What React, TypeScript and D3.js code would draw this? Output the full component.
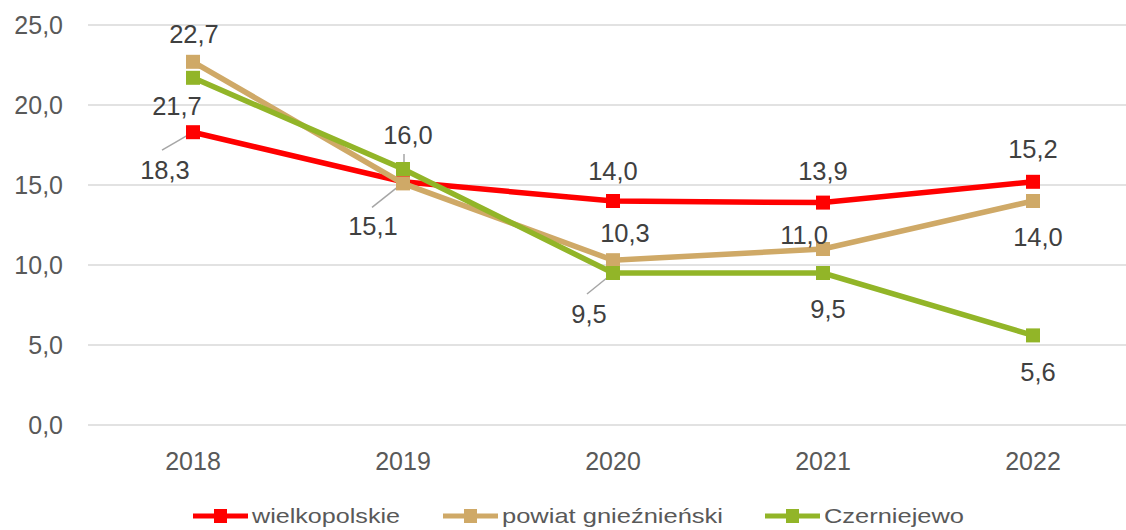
import React from 'react';
import * as d3 from 'd3';

const years = ['2018', '2019', '2020', '2021', '2022'];
const wielkopolskie = [18.3, 15.2, 14.0, 13.9, 15.2];
const powiat = [22.7, 15.1, 10.3, 11.0, 14.0];
const czerniejewo = [21.7, 16.0, 9.5, 9.5, 5.6];
const seriesNames = ['wielkopolskie', 'powiat gnieźnieński', 'Czerniejewo'];
const yTicks = [0, 5, 10, 15, 20, 25];

// label placement per point: [dx, dy] from the point, null = hidden, optional leader start
type Lab = { dx: number; dy: number; lead?: [number, number, number, number] } | null;
const redLabels: Lab[] = [
  { dx: -28, dy: 38, lead: [-31, 18, 0, 0] },
  null,
  { dx: 0, dy: -30 },
  { dx: 0, dy: -32 },
  { dx: 0, dy: -33 },
];
const tanLabels: Lab[] = [
  { dx: 1, dy: -28 },
  { dx: -30, dy: 43, lead: [-31, 24, -2, 1] },
  { dx: 12, dy: -27 },
  { dx: -19, dy: -14 },
  { dx: 5, dy: 36 },
];
const greenLabels: Lab[] = [
  { dx: -16, dy: 28 },
  { dx: 5, dy: -34, lead: [1, -15, 1, 0] },
  { dx: -24, dy: 41, lead: [-26, 21, 0, 0] },
  { dx: 5, dy: 36 },
  { dx: 5, dy: 37 },
];

const colors = ['#ff0000', '#cfa967', '#92b528'];
const series = [
  { name: seriesNames[0], values: wielkopolskie, color: colors[0], labels: redLabels },
  { name: seriesNames[1], values: powiat, color: colors[1], labels: tanLabels },
  { name: seriesNames[2], values: czerniejewo, color: colors[2], labels: greenLabels },
];

const fmt = (v: number) => v.toFixed(1).replace('.', ',');

export default function App() {
  const width = 1126;
  const height = 530;
  const x = d3.scalePoint<string>().domain(years).range([193, 1033]);
  const y = d3.scaleLinear().domain([0, 25]).range([425, 25]);
  const line = d3
    .line<number>()
    .x((_, i) => x(years[i]) as number)
    .y((d) => y(d));
  const font = 'Arial, "Liberation Sans", sans-serif';
  const ms = 14;

  const legendX = [193, 443, 765];
  const legendW = [148, 221, 140];

  return (
    <svg
      width={width}
      height={height}
      style={{ position: 'absolute', left: 0, top: 0, fontFamily: font }}
    >
      <rect width={width} height={height} fill="#fff" />
      {yTicks.map((t) => (
        <g key={t}>
          <line x1={88} x2={width} y1={y(t)} y2={y(t)} stroke="#d9d9d9" strokeWidth={1.5} />
          <text x={63} y={y(t)} dy="0.35em" textAnchor="end" fontSize={25} fill="#595959">
            {fmt(t)}
          </text>
        </g>
      ))}
      {years.map((yr) => (
        <text key={yr} x={x(yr)} y={461} dy="0.35em" textAnchor="middle" fontSize={25} fill="#595959">
          {yr}
        </text>
      ))}
      {series.map((s) =>
        s.labels.map((l, i) =>
          l && l.lead ? (
            <line
              key={s.name + 'lead' + i}
              x1={(x(years[i]) as number) + l.lead[0]}
              y1={y(s.values[i]) + l.lead[1]}
              x2={(x(years[i]) as number) + l.lead[2]}
              y2={y(s.values[i]) + l.lead[3]}
              stroke="#a6a6a6"
              strokeWidth={1.5}
            />
          ) : null
        )
      )}
      {series.map((s) => (
        <g key={s.name}>
          <path d={line(s.values) || ''} fill="none" stroke={s.color} strokeWidth={5.5} />
          {s.values.map((v, i) => (
            <rect
              key={i}
              x={(x(years[i]) as number) - ms / 2}
              y={y(v) - ms / 2}
              width={ms}
              height={ms}
              fill={s.color}
            />
          ))}
        </g>
      ))}
      {series.map((s) =>
        s.labels.map((l, i) =>
          l ? (
            <text
              key={s.name + 'lab' + i}
              x={(x(years[i]) as number) + l.dx}
              y={y(s.values[i]) + l.dy}
              dy="0.35em"
              textAnchor="middle"
              fontSize={25.5}
              fill="#404040"
            >
              {fmt(s.values[i])}
            </text>
          ) : null
        )
      )}
      {series.map((s, i) => (
        <g key={'leg' + s.name} transform={`translate(${legendX[i]}, 516)`}>
          <line x1={0} x2={55} y1={0} y2={0} stroke={s.color} strokeWidth={5} />
          <rect x={21} y={-7} width={13} height={14} fill={s.color} />
          <text
            x={59}
            y={0}
            dy="0.35em"
            fontSize={21}
            fill="#595959"
            textLength={legendW[i]}
            lengthAdjust="spacingAndGlyphs"
          >
            {s.name}
          </text>
        </g>
      ))}
    </svg>
  );
}
